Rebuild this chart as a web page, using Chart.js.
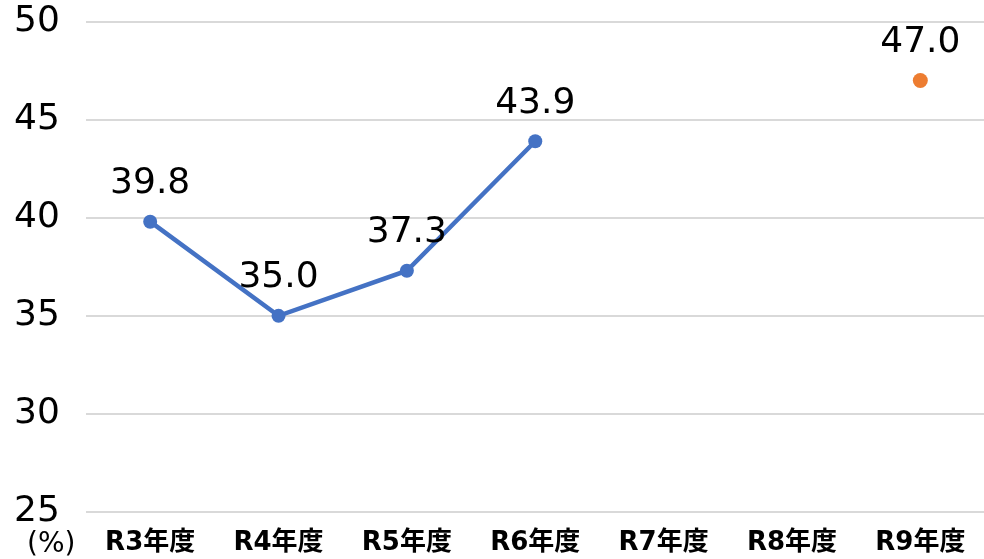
<!DOCTYPE html>
<html><head><meta charset="utf-8">
<script src="https://cdn.jsdelivr.net/npm/chart.js@4/dist/chart.umd.min.js"></script>
<style>html,body{margin:0;padding:0;background:#fff;overflow:hidden;}#wrap{width:984px;height:559px;}</style>
</head><body><div id="wrap"><canvas id="c" width="984" height="559"></canvas></div>
<script>
const categories = ['R3年度','R4年度','R5年度','R6年度','R7年度','R8年度','R9年度'];
const actualValues = [39.8, 35.0, 37.3, 43.9, null, null, null];
const targetValues = [null, null, null, null, null, null, 47.0];
const yTicks = [25, 30, 35, 40, 45, 50];
const unitLabel = '(%)';

const FONT = '"DejaVu Sans", "Noto Sans CJK JP", sans-serif';
const PLOT_OVERHANG = 8; // plot area extends slightly past the right edge, as in the reference

const extendPlugin = {
  id: 'extendRight',
  afterLayout(chart) {
    const x = chart.scales.x;
    x.right += PLOT_OVERHANG;
    x.width = x.right - x.left;
    x.configure();
    chart.chartArea.right += PLOT_OVERHANG;
    chart.chartArea.width = chart.chartArea.right - chart.chartArea.left;
  }
};

const labelPlugin = {
  id: 'valueLabels',
  afterDatasetsDraw(chart) {
    const ctx = chart.ctx;
    ctx.save();
    ctx.font = '36px ' + FONT;
    ctx.fillStyle = '#000';
    ctx.textAlign = 'center';
    ctx.textBaseline = 'middle';
    chart.data.datasets.forEach((ds, i) => {
      const meta = chart.getDatasetMeta(i);
      meta.data.forEach((pt, j) => {
        const v = ds.data[j];
        if (v === null || v === undefined) return;
        ctx.fillText(v.toFixed(1), pt.x, pt.y - 38);
      });
    });
    const xs = chart.scales.x;
    ctx.font = '28px ' + FONT;
    ctx.textAlign = 'left';
    ctx.fillText(unitLabel, 27, xs.top + 33);
    ctx.restore();
  }
};

new Chart(document.getElementById('c'), {
  type: 'line',
  data: {
    labels: categories,
    datasets: [
      { data: actualValues, borderColor: '#4472C4', backgroundColor: '#4472C4', borderWidth: 4.5,
        pointRadius: 7, pointHoverRadius: 7, pointBorderWidth: 0, tension: 0, spanGaps: false },
      { data: targetValues, borderColor: '#ED7D31', backgroundColor: '#ED7D31', borderWidth: 0,
        pointRadius: 7.5, pointHoverRadius: 7.5, pointBorderWidth: 0, showLine: false }
    ]
  },
  options: {
    responsive: false,
    animation: false,
    devicePixelRatio: 1,
    clip: false,
    layout: { padding: { left: 14, right: 0, top: 0, bottom: 0 } },
    plugins: { legend: { display: false }, tooltip: { enabled: false } },
    scales: {
      x: {
        offset: true,
        afterFit(s) { s.height = 47; },
        grid: { display: false, drawTicks: false, offset: true },
        border: { display: false },
        ticks: { color: '#000', font: { family: FONT, size: 26, weight: 'bold' }, padding: 16, maxRotation: 0, autoSkip: false }
      },
      y: {
        min: 25, max: 50,
        afterBuildTicks(s) { s.ticks = yTicks.map(v => ({ value: v })); },
        afterFit(s) { s.width = 72; },
        grid: { color: '#d9d9d9', lineWidth: 2, drawTicks: false },
        border: { display: false },
        ticks: { color: '#000', font: { family: FONT, size: 36 }, padding: 0, crossAlign: 'far',
          callback: v => String(v) }
      }
    }
  },
  plugins: [extendPlugin, labelPlugin]
});
</script></body></html>
